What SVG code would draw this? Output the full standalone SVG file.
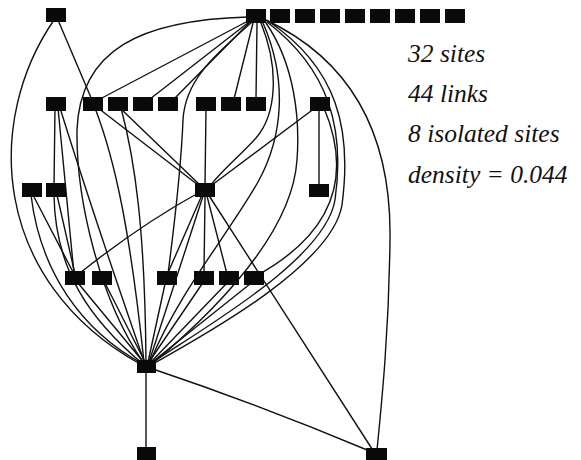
<svg xmlns="http://www.w3.org/2000/svg" width="581" height="460" viewBox="0 0 581 460">
<style>
.e{fill:none;stroke:#111;stroke-width:1.4;stroke-linecap:round}
.n{fill:#0a0a0a}
.t{font-family:"Liberation Serif","Times New Roman",serif;font-style:italic;font-size:25.5px;fill:#111}
</style>
<rect width="581" height="460" fill="#fff"/>
<g id="connectors">
<path class="e" d="M58,20 L92,100"/>
<path class="e" d="M54,20 C -15,120 -10,280 140,364"/>
<path class="e" d="M248,17 C 140,20 80,50 77,130 C 76,200 100,300 143,362"/>
<path class="e" d="M55,108 L54,186"/>
<path class="e" d="M58,108 L74,274"/>
<path class="e" d="M60,108 Q 95,220 145,364"/>
<path class="e" d="M33,195 L74,274"/>
<path class="e" d="M31,195 C 40,270 80,330 143,364"/>
<path class="e" d="M57,195 L75,274"/>
<path class="e" d="M54,195 C 55,270 90,320 143,364"/>
<path class="e" d="M78,283 L145,364"/>
<path class="e" d="M105,283 L146,364"/>
<path class="e" d="M80,273 Q 140,225 200,192"/>
<path class="e" d="M98,108 L202,188"/>
<path class="e" d="M120,108 L202,187"/>
<path class="e" d="M95,108 C 115,160 130,230 144,362"/>
<path class="e" d="M121,108 C 135,160 145,230 146,362"/>
<path class="e" d="M206,108 L205,186"/>
<path class="e" d="M315,108 L208,188"/>
<path class="e" d="M319,108 L319,186"/>
<path class="e" d="M324,108 C 350,170 340,230 256,276"/>
<path class="e" d="M266,20 C 340,55 392,120 390,240 C 389,330 382,400 377,450"/>
<path class="e" d="M208,194 L374,452"/>
<path class="e" d="M150,368 Q 260,405 372,452"/>
<path class="e" d="M146,370 L146,450"/>
<path class="e" d="M202,195 L167,275"/>
<path class="e" d="M203,196 L149,362"/>
<path class="e" d="M205,196 L204,274"/>
<path class="e" d="M207,196 L227,274"/>
<path class="e" d="M248,21 L100,99"/>
<path class="e" d="M249,22 L150,99"/>
<path class="e" d="M250,22 L174,99"/>
<path class="e" d="M253,23 L234,99"/>
<path class="e" d="M257,23 L256,99"/>
<path class="e" d="M251,23 C 215,55 185,80 183,120 C 181,170 175,220 168,274"/>
<path class="e" d="M261,23 C 280,70 276,115 256,138 C 240,156 222,170 210,186"/>
<path class="e" d="M263,23 C 287,78 284,135 258,182 C 228,235 180,290 150,362"/>
<path class="e" d="M266,23 C 295,65 300,120 297,160 C 293,220 240,290 152,364"/>
<path class="e" d="M267,22 C 330,70 345,130 335,200 C 325,260 200,330 150,364"/>
<path class="e" d="M268,21 C 338,68 352,130 342,205 C 332,265 205,335 151,365"/>
<path class="e" d="M165,284 L148,362"/>
<path class="e" d="M202,284 L149,362"/>
<path class="e" d="M226,284 L150,363"/>
<path class="e" d="M250,284 L151,363"/>
</g>
<g id="nA"><rect class="n" x="46" y="8" width="20" height="14"/></g>
<g id="nH"><rect class="n" x="246" y="9" width="20" height="14"/></g>
<g id="nI1"><rect class="n" x="270" y="9" width="20" height="14"/></g>
<g id="nI2"><rect class="n" x="295" y="9" width="20" height="14"/></g>
<g id="nI3"><rect class="n" x="320" y="9" width="20" height="14"/></g>
<g id="nI4"><rect class="n" x="345" y="9" width="20" height="14"/></g>
<g id="nI5"><rect class="n" x="370" y="9" width="20" height="14"/></g>
<g id="nI6"><rect class="n" x="395" y="9" width="20" height="14"/></g>
<g id="nI7"><rect class="n" x="420" y="9" width="20" height="14"/></g>
<g id="nI8"><rect class="n" x="445" y="9" width="20" height="14"/></g>
<g id="r2a"><rect class="n" x="46" y="97" width="20" height="14"/></g>
<g id="r2b"><rect class="n" x="83" y="97" width="20" height="14"/></g>
<g id="r2c"><rect class="n" x="108" y="97" width="20" height="14"/></g>
<g id="r2d"><rect class="n" x="133" y="97" width="20" height="14"/></g>
<g id="r2e"><rect class="n" x="158" y="97" width="20" height="14"/></g>
<g id="r2f"><rect class="n" x="196" y="97" width="20" height="14"/></g>
<g id="r2g"><rect class="n" x="221" y="97" width="20" height="14"/></g>
<g id="r2h"><rect class="n" x="246" y="97" width="20" height="14"/></g>
<g id="r2i"><rect class="n" x="310" y="97" width="20" height="14"/></g>
<g id="r3a"><rect class="n" x="22" y="183" width="20" height="14"/></g>
<g id="r3b"><rect class="n" x="46" y="183" width="20" height="14"/></g>
<g id="nM"><rect class="n" x="195" y="183" width="20" height="14"/></g>
<g id="r3d"><rect class="n" x="309" y="184" width="20" height="13"/></g>
<g id="r4a"><rect class="n" x="65" y="271" width="20" height="14"/></g>
<g id="r4b"><rect class="n" x="92" y="271" width="20" height="14"/></g>
<g id="r4c"><rect class="n" x="157" y="271" width="20" height="14"/></g>
<g id="r4d"><rect class="n" x="194" y="271" width="20" height="14"/></g>
<g id="r4e"><rect class="n" x="219" y="271" width="20" height="14"/></g>
<g id="r4f"><rect class="n" x="244" y="271" width="20" height="14"/></g>
<g id="nB"><rect class="n" x="137" y="360" width="19" height="13"/></g>
<g id="nC"><rect class="n" x="137" y="447" width="19" height="14"/></g>
<g id="nD"><rect class="n" x="366" y="448" width="21" height="14"/></g>
<g id="stats">
<text class="t" x="408" y="62">32 sites</text>
<text class="t" x="408" y="102">44 links</text>
<text class="t" x="408" y="142">8 isolated sites</text>
<text class="t" x="408" y="183">density = 0.044</text>
</g>
</svg>
